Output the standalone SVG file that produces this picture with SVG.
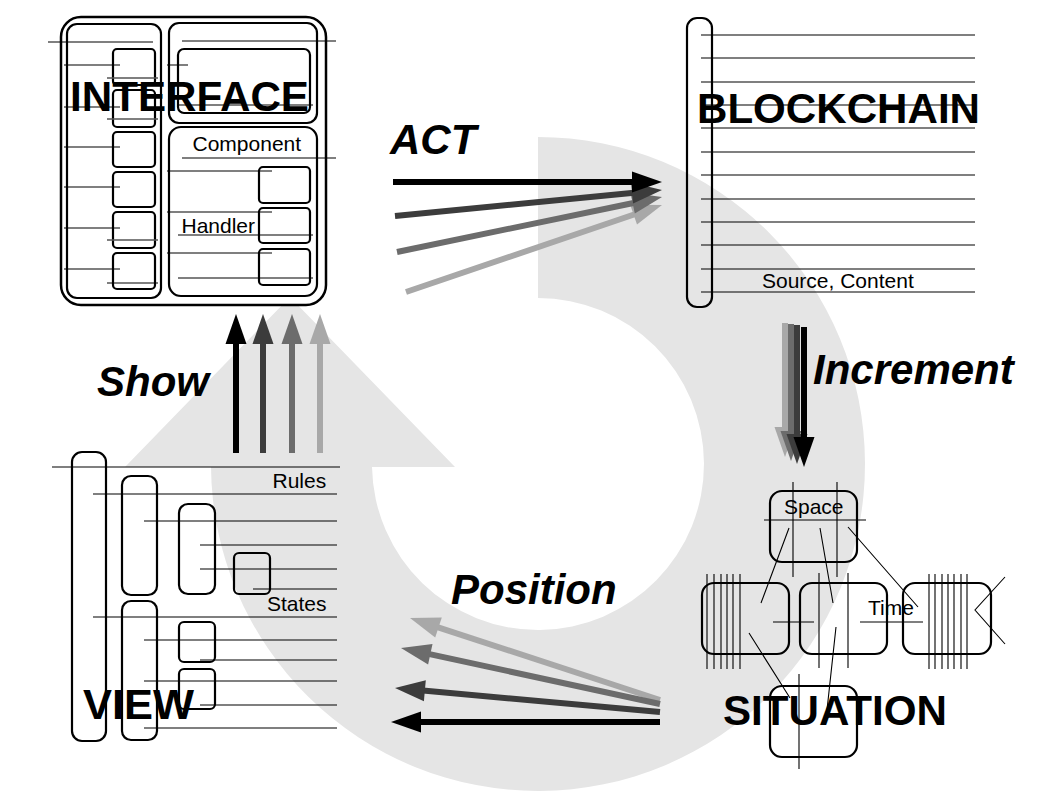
<svg xmlns="http://www.w3.org/2000/svg" width="1058" height="794" viewBox="0 0 1058 794">
<style>
  .bx{fill:none;stroke:#000;stroke-width:2.2}
  .ln{stroke:#000;stroke-width:1.1;fill:none}
  .big{font-family:"Liberation Sans",Arial,sans-serif;font-weight:bold;font-size:42px;fill:#000}
  .lbl{font-family:"Liberation Sans",Arial,sans-serif;font-weight:bold;font-style:italic;font-size:42px;fill:#000}
  .sm{font-family:"Liberation Sans",Arial,sans-serif;font-size:21px;fill:#000}
  .c0{stroke:#000;fill:#000}
  .c1{stroke:#3c3c3c;fill:#3c3c3c}
  .c2{stroke:#6c6c6c;fill:#6c6c6c}
  .c3{stroke:#a8a8a8;fill:#a8a8a8}
  .sh{stroke-width:6;fill:none}
  .hd{stroke:none}
</style>
<rect width="1058" height="794" fill="#fff"/>
<g id="cycle">
  <path d="M538,137 A327,327 0 1 1 211,467 L125,467 L290,297 L455,467 L372,467 A166,166 0 1 0 538,298 Z" fill="#e5e5e5"/>
</g>
<g id="interface">
  <rect x="61" y="17" width="265" height="288" rx="20" fill="#fff" stroke="#000" stroke-width="2.5"/>
  <rect class="bx" x="67" y="24" width="94" height="274" rx="10"/>
  <rect class="bx" x="169" y="23" width="148" height="100" rx="10"/>
  <rect class="bx" x="178" y="49" width="132" height="64" rx="6"/>
  <rect class="bx" x="169" y="127" width="148" height="169" rx="12"/>
  <rect class="bx" x="113" y="49" width="42" height="36" rx="4"/>
  <rect class="bx" x="113" y="90" width="42" height="37" rx="4"/>
  <rect class="bx" x="113" y="132" width="42" height="35" rx="4"/>
  <rect class="bx" x="113" y="172" width="42" height="35" rx="4"/>
  <rect class="bx" x="113" y="212" width="42" height="36" rx="4"/>
  <rect class="bx" x="113" y="253" width="42" height="36" rx="4"/>
  <rect class="bx" x="259" y="167" width="51" height="36" rx="4"/>
  <rect class="bx" x="259" y="208" width="51" height="35" rx="4"/>
  <rect class="bx" x="259" y="249" width="51" height="36" rx="4"/>
  <path class="ln" d="M48,42H153 M64,65H120 M64,107H120 M64,147H120 M64,187H120 M64,228H120 M64,269H120 M182,41H336 M167,65H188 M178,105H313 M182,158H336 M167,171H272 M167,212H272 M167,253H272 M178,235H313 M178,278H313 M107,283H158"/>
  <path d="M107,78H158 M107,119H158 M107,240H158" stroke="#555" stroke-width="1.3" fill="none"/>
  <text class="sm" x="192.5" y="151">Component</text>
  <text class="sm" x="181.5" y="233">Handler</text>
  <text class="big" x="70" y="111" textLength="239" lengthAdjust="spacingAndGlyphs">INTERFACE</text>
</g>
<g id="blockchain">
  <rect class="bx" x="687" y="18" width="25" height="289" rx="10"/>
  <path class="ln" d="M701,35H975 M701,58H975 M701,82H975 M701,105H975 M701,128H975 M701,152H975 M701,175H975 M701,199H975 M701,222H975 M701,245H975 M701,269H975 M701,292H975"/>
  <text class="big" x="697" y="123" textLength="283" lengthAdjust="spacingAndGlyphs">BLOCKCHAIN</text>
  <text class="sm" x="762" y="288">Source, Content</text>
</g>
<g id="situation">
  <rect class="bx" x="770" y="491" width="87" height="71" rx="12"/>
  <rect class="bx" x="702" y="583" width="87" height="71" rx="12"/>
  <rect class="bx" x="800" y="583" width="87" height="71" rx="12"/>
  <rect class="bx" x="903" y="583" width="88" height="71" rx="12"/>
  <rect class="bx" x="770" y="686" width="87" height="71" rx="12"/>
  <path class="ln" d="M764,520H866 M793,482V577 M837,482V577 M789,528L761,603 M820,528L833,603 M848,527L918,607 M707,574V669 M714,574V669 M721,574V669 M727,574V669 M733,574V669 M740,574V669 M773,622H814 M819,573V668 M848,573V668 M860,622H923 M929,574V669 M935,574V669 M942,574V669 M948,574V669 M954,574V669 M961,574V669 M967,574V669 M1005,577L975,610L1005,644 M749,633L790,698 M836,627L827,710 M799,674V769"/>
  <text class="sm" x="784" y="514">Space</text>
  <text class="sm" x="868" y="615">Time</text>
  <text class="big" x="723" y="725" textLength="224" lengthAdjust="spacingAndGlyphs">SITUATION</text>
</g>
<g id="view">
  <rect class="bx" x="72" y="452" width="34" height="289" rx="10"/>
  <rect class="bx" x="122" y="476" width="35" height="119" rx="9"/>
  <rect class="bx" x="122" y="601" width="35" height="139" rx="9"/>
  <rect class="bx" x="179" y="504" width="36" height="90" rx="9"/>
  <rect class="bx" x="234" y="553" width="36" height="41" rx="5"/>
  <rect class="bx" x="179" y="622" width="36" height="40" rx="5"/>
  <rect class="bx" x="179" y="669" width="36" height="40" rx="5"/>
  <path class="ln" d="M52,467H340 M93,494H337 M144,521H337 M200,545H337 M200,569H337 M253,589H337 M93,617H337 M144,640H337 M200,660H337 M144,681H337 M200,705H337 M144,728H337"/>
  <text class="sm" x="272.5" y="488">Rules</text>
  <text class="sm" x="267" y="611">States</text>
  <text class="big" x="83" y="719" textLength="111" lengthAdjust="spacingAndGlyphs">VIEW</text>
</g>
<g id="connectors">
  <g id="act">
    <line class="sh c3" x1="406" y1="292" x2="635.5" y2="214"/>
    <polygon class="hd c3" points="637,224.6 662,205 630.2,204.7"/>
    <line class="sh c2" x1="397" y1="252" x2="634.6" y2="202.7"/>
    <polygon class="hd c2" points="634.8,213.4 662,197 630.5,192.8"/>
    <line class="sh c1" x1="395" y1="216" x2="634.1" y2="192.7"/>
    <polygon class="hd c1" points="633.1,203.4 662,190 631.1,182.5"/>
    <line class="sh c0" x1="393" y1="182" x2="634" y2="182"/>
    <polygon class="hd c0" points="632,171.5 662,182 632,192.5"/>
  </g>
  <g id="increment">
    <line class="sh c3" x1="785" y1="323" x2="785" y2="429"/>
    <polygon class="hd c3" points="774.5,427 785,457 795.5,427"/>
    <line class="sh c2" x1="791" y1="324" x2="791" y2="433"/>
    <polygon class="hd c2" points="780.5,431 791,461 801.5,431"/>
    <line class="sh c1" x1="797" y1="325" x2="797" y2="436"/>
    <polygon class="hd c1" points="786.5,434 797,464 807.5,434"/>
    <line class="sh c0" x1="804" y1="327" x2="804" y2="439"/>
    <polygon class="hd c0" points="793.5,437 804,467 814.5,437"/>
  </g>
  <g id="position">
    <line class="sh c3" x1="660" y1="700" x2="436.6" y2="626.8"/>
    <polygon class="hd c3" points="435.2,637.4 410,618 441.8,617.4"/>
    <line class="sh c2" x1="660" y1="704" x2="428.4" y2="653.9"/>
    <polygon class="hd c2" points="428.1,664.6 401,648 432.5,644.1"/>
    <line class="sh c1" x1="660" y1="712" x2="422.9" y2="690.5"/>
    <polygon class="hd c1" points="423.9,701.2 395,688 425.8,680.3"/>
    <line class="sh c0" x1="660" y1="722" x2="419" y2="722"/>
    <polygon class="hd c0" points="421,711.5 391,722 421,732.5"/>
  </g>
  <g id="show">
    <line class="sh c3" x1="320" y1="453" x2="320" y2="342"/>
    <polygon class="hd c3" points="309.5,344 320,314 330.5,344"/>
    <line class="sh c2" x1="292" y1="453" x2="292" y2="342"/>
    <polygon class="hd c2" points="281.5,344 292,314 302.5,344"/>
    <line class="sh c1" x1="263" y1="453" x2="263" y2="342"/>
    <polygon class="hd c1" points="252.5,344 263,314 273.5,344"/>
    <line class="sh c0" x1="236" y1="453" x2="236" y2="342"/>
    <polygon class="hd c0" points="225.5,344 236,314 246.5,344"/>
  </g>
</g>
<g id="labels">
  <text class="lbl" x="390" y="154">ACT</text>
  <text class="lbl" x="813" y="384">Increment</text>
  <text class="lbl" x="451" y="604">Position</text>
  <text class="lbl" x="97" y="396">Show</text>
</g>
</svg>
